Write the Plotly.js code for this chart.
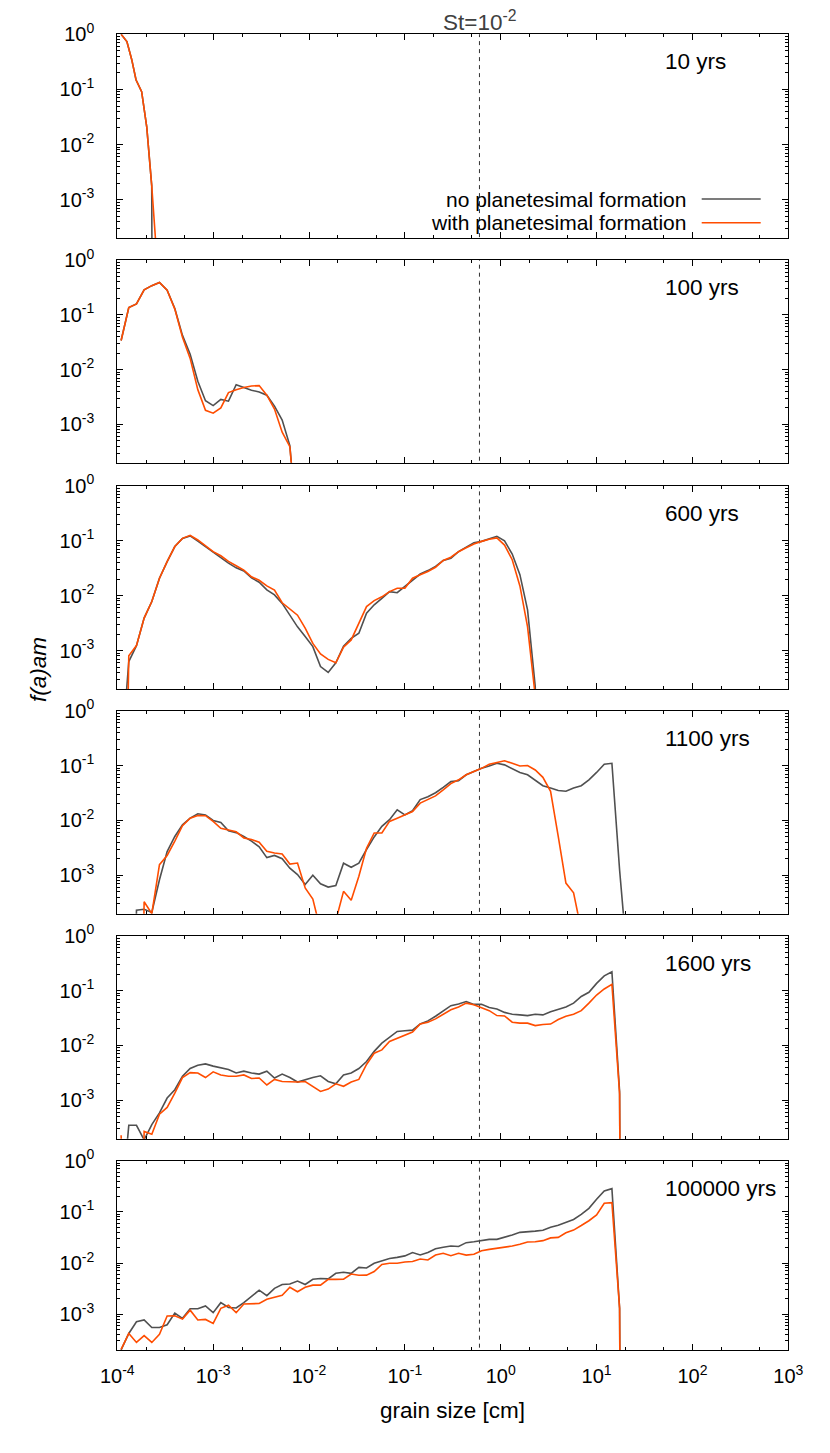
<!DOCTYPE html>
<html>
<head>
<meta charset="utf-8">
<script src="https://cdn.plot.ly/plotly-3.0.1.min.js"></script>
<style>html,body{margin:0;padding:0;background:#fff}#chart{width:830px;height:1453px}</style>
</head>
<body>
<div id="chart"></div>
<script>
// ---------------- DATA ----------------
const grainSize = [1.096e-4,1.318e-4,1.585e-4,1.905e-4,2.291e-4,2.754e-4,3.311e-4,3.981e-4,4.786e-4,5.754e-4,6.918e-4,8.318e-4,
  1.000e-3,1.202e-3,1.445e-3,1.738e-3,2.089e-3,2.512e-3,3.020e-3,3.631e-3,4.365e-3,5.248e-3,6.310e-3,7.586e-3,9.120e-3,
  1.096e-2,1.318e-2,1.585e-2,1.905e-2,2.291e-2,2.754e-2,3.311e-2,3.981e-2,4.786e-2,5.754e-2,6.918e-2,8.318e-2,
  0.1,0.1202,0.1445,0.1738,0.2089,0.2512,0.3020,0.3631,0.4365,0.5248,0.6310,0.7586,0.9120,
  1.096,1.318,1.585,1.905,2.291,2.754,3.311,3.981,4.786,5.754,6.918,8.318,
  10.0,12.02,14.45,17.38,20.89];

const grainSize10yr = [1.096e-4,1.259e-4,1.413e-4,1.567e-4,1.795e-4,2.028e-4,2.286e-4,2.570e-4];
const noPF_10 = [1.0,0.74,0.35,0.15,0.091,0.021,1.8e-3,1e-30];
const withPF_10 = [1.0,0.74,0.35,0.15,0.091,0.021,1.8e-3,1e-4];

const noPF_100 = [0.034,0.135,0.158,0.285,0.34,0.39,0.28,0.13,0.042,0.019,6.1e-3,2.7e-3,2.2e-3,2.85e-3,2.65e-3,5.3e-3,4.7e-3,4.2e-3,3.9e-3,3.4e-3,2.15e-3,1.2e-3,4.1e-4,1e-5];
const withPF_100 = [0.034,0.135,0.158,0.285,0.34,0.39,0.28,0.127,0.039,0.016,4.3e-3,1.8e-3,1.6e-3,2.0e-3,3.8e-3,4.3e-3,4.7e-3,5.0e-3,5.1e-3,3.4e-3,1.9e-3,7.2e-4,3.9e-4,1e-5];

const noPF_600 = [1e-5,6.3e-4,1.23e-3,3.9e-3,7.8e-3,0.0207,0.0415,0.078,0.11,0.122,0.098,0.078,0.06,0.049,0.039,0.032,0.028,0.021,0.0175,0.0127,0.0103,7.2e-3,4.5e-3,2.7e-3,1.8e-3,1.18e-3,5.1e-4,4.0e-4,6.0e-4,1.2e-3,1.67e-3,2.07e-3,4.8e-3,6.8e-3,8.9e-3,0.0118,0.0113,0.0145,0.019,0.0247,0.0285,0.034,0.0435,0.048,0.063,0.077,0.092,0.097,0.108,0.12,0.099,0.057,0.024,5.5e-3,2.2e-4,1e-12];
const withPF_600 = [1e-12,8e-4,1.23e-3,3.9e-3,7.8e-3,0.0207,0.0415,0.078,0.11,0.125,0.103,0.080,0.063,0.053,0.042,0.035,0.029,0.022,0.019,0.015,0.0126,7.4e-3,5.6e-3,4.4e-3,2.55e-3,1.35e-3,8.7e-4,6.9e-4,6.0e-4,1.15e-3,1.56e-3,3.2e-3,6.3e-3,8.1e-3,9.5e-3,0.0118,0.0136,0.0136,0.0207,0.024,0.0275,0.0327,0.0435,0.05,0.063,0.074,0.087,0.097,0.106,0.112,0.083,0.045,0.015,2.7e-3,1.5e-4];

const noPF_1100 = [1e-12,1e-12,2.3e-4,2.4e-4,2.1e-4,8.3e-4,2.7e-3,5.1e-3,8.3e-3,0.011,0.0132,0.0126,0.01,9.2e-3,6.5e-3,6e-3,5.1e-3,4.2e-3,3.3e-3,2.1e-3,2.3e-3,2.0e-3,1.35e-3,1.03e-3,6.8e-4,1e-3,7.0e-4,6.1e-4,6.5e-4,1.66e-3,1.4e-3,1.66e-3,2.95e-3,5e-3,7.8e-3,0.0103,0.0156,0.0126,0.015,0.024,0.027,0.032,0.040,0.051,0.053,0.068,0.078,0.089,0.098,0.11,0.103,0.089,0.075,0.068,0.055,0.043,0.039,0.035,0.034,0.039,0.043,0.055,0.075,0.106,0.11,1.25e-3,3e-5];
const withPF_1100 = [1e-12,1e-12,1e-12,3.3e-4,2.0e-4,1.56e-3,2.3e-3,4.2e-3,8e-3,0.011,0.0123,0.0122,9.6e-3,7.2e-3,6.6e-3,6.2e-3,4.8e-3,4.5e-3,4e-3,2.75e-3,2.55e-3,2.45e-3,1.6e-3,1.67e-3,5.9e-4,3.7e-4,1e-4,1e-12,1.5e-4,5.1e-4,3.5e-4,9.6e-4,3.1e-3,5.9e-3,5.9e-3,9.6e-3,0.011,0.0126,0.0145,0.0207,0.0245,0.028,0.036,0.047,0.055,0.068,0.078,0.089,0.106,0.115,0.122,0.11,0.098,0.1,0.083,0.061,0.034,5.1e-3,7.2e-4,4.8e-4,1e-4];

const noPF_1600 = [1e-5,3.5e-4,3.5e-4,1.9e-4,3.6e-4,5.9e-4,1.1e-3,1.56e-3,2.75e-3,3.8e-3,4.35e-3,4.6e-3,4.2e-3,3.9e-3,3.65e-3,3.15e-3,3.4e-3,3.15e-3,3.0e-3,3.4e-3,2.55e-3,3.0e-3,2.6e-3,2.15e-3,2.4e-3,2.6e-3,2.8e-3,2.2e-3,2.0e-3,2.9e-3,3.15e-3,3.8e-3,5.1e-3,7.8e-3,0.011,0.014,0.018,0.0185,0.019,0.0247,0.028,0.034,0.043,0.053,0.057,0.063,0.056,0.056,0.049,0.046,0.040,0.037,0.036,0.035,0.037,0.036,0.041,0.046,0.050,0.059,0.078,0.093,0.135,0.185,0.22,1.45e-3,1e-30];
const withPF_1600 = [2.3e-4,1e-12,1e-12,2.7e-4,2.4e-4,5.6e-4,7.4e-4,1.35e-3,2.6e-3,3.2e-3,3.15e-3,2.6e-3,3.3e-3,2.9e-3,2.75e-3,2.75e-3,2.9e-3,2.5e-3,2.55e-3,1.9e-3,2.4e-3,2.2e-3,2.15e-3,2.15e-3,2.2e-3,1.8e-3,1.45e-3,1.6e-3,2.0e-3,1.8e-3,2.15e-3,2.4e-3,4.5e-3,7.2e-3,8.3e-3,0.0118,0.0136,0.0156,0.0175,0.0247,0.0265,0.0305,0.037,0.0446,0.05,0.059,0.055,0.049,0.043,0.035,0.0345,0.0265,0.0255,0.0255,0.023,0.024,0.0245,0.0297,0.034,0.037,0.043,0.059,0.083,0.107,0.13,1.3e-3,1e-30];

const noPF_100000 = [2e-4,4.2e-4,7.1e-4,7.7e-4,5.5e-4,5.5e-4,6.2e-4,1.05e-3,8.3e-4,1.28e-3,1.28e-3,1.45e-3,1.07e-3,1.68e-3,1.35e-3,1.32e-3,1.68e-3,2.2e-3,2.95e-3,2.3e-3,3.2e-3,3.8e-3,3.9e-3,4.45e-3,3.8e-3,4.8e-3,5.0e-3,4.9e-3,6.3e-3,6.6e-3,6.3e-3,8.2e-3,8.0e-3,9.9e-3,0.011,0.0123,0.0129,0.0138,0.016,0.0144,0.016,0.019,0.0203,0.0215,0.021,0.025,0.026,0.0274,0.029,0.029,0.0317,0.0353,0.0398,0.0405,0.042,0.0436,0.05,0.055,0.063,0.071,0.089,0.117,0.176,0.256,0.284,1.3e-3,1e-30];
const withPF_100000 = [2.05e-4,4.2e-4,2.8e-4,3.8e-4,2.8e-4,4.05e-4,9.2e-4,9.3e-4,8.0e-4,1.2e-3,7.7e-4,7.9e-4,6.6e-4,1.3e-3,1.5e-3,1.07e-3,1.58e-3,1.58e-3,1.62e-3,1.95e-3,2.14e-3,2.34e-3,3.35e-3,2.75e-3,3.35e-3,3.7e-3,3.7e-3,4.8e-3,4.8e-3,4.85e-3,6.1e-3,5.75e-3,5.8e-3,6.8e-3,9.4e-3,9.9e-3,9.9e-3,0.0105,0.0107,0.012,0.0115,0.0143,0.0155,0.0139,0.0155,0.0143,0.0148,0.0174,0.0185,0.0194,0.02,0.0215,0.0232,0.0257,0.026,0.0274,0.031,0.0317,0.039,0.044,0.054,0.067,0.087,0.147,0.151,1.3e-3,1e-30];

const timeLabels = ['10 yrs','100 yrs','600 yrs','1100 yrs','1600 yrs','100000 yrs'];
const stokesGrainSize = 0.6;
const stokesLineSpan = [1e-6, 10];
const seriesNames = ['no planetesimal formation','with planetesimal formation'];
const xTickVals = [1e-4,1e-3,1e-2,1e-1,1,10,100,1000];
const xTickText = ['10<sup>-4</sup>','10<sup>-3</sup>','10<sup>-2</sup>','10<sup>-1</sup>','10<sup>0</sup>','10<sup>1</sup>','10<sup>2</sup>','10<sup>3</sup>'];
const yTickVals = [1,0.1,0.01,0.001];
const yTickText = ['10<sup>0</sup>','10<sup>-1</sup>','10<sup>-2</sup>','10<sup>-3</sup>'];

// ---------------- LAYOUT ----------------
const W = 830, H = 1453;
const plotLeft = 117.3, plotRight = 788.3;
const panelTops = [34.3,260,485.7,710.7,935.7,1160.7];
const panelBottoms = [238.3,462.7,689,913.7,1138.7,1350];
const GRAY = '#505050', ORANGE = '#ff4d00';
const FONT = 'Liberation Sans, Arial, Helvetica, sans-serif';
const TEXT_SIZE = 22.5;
const KEY_SIZE = 21;

const panels = [
  {x: grainSize10yr, g: noPF_10, o: withPF_10},
  {x: grainSize, g: noPF_100, o: withPF_100},
  {x: grainSize, g: noPF_600, o: withPF_600},
  {x: grainSize, g: noPF_1100, o: withPF_1100},
  {x: grainSize, g: noPF_1600, o: withPF_1600},
  {x: grainSize, g: noPF_100000, o: withPF_100000}
];

const traces = [];
const layout = {
  width: W, height: H,
  margin: {l:0, r:0, t:0, b:0},
  paper_bgcolor: '#fff', plot_bgcolor: '#fff',
  showlegend: false,
  font: {family: FONT, size: 20, color: '#000'},
  annotations: [], shapes: []
};

panels.forEach((p, i) => {
  const n = i === 0 ? '' : String(i + 1);
  const xa = 'x' + n, ya = 'y' + n;
  traces.push({x: [stokesGrainSize, stokesGrainSize], y: stokesLineSpan, type: 'scatter', mode: 'lines',
    xaxis: xa, yaxis: ya, hoverinfo: 'skip', line: {color: '#333', width: 1, dash: '4px,4px'}});
  traces.push({x: p.x, y: p.g, type: 'scatter', mode: 'lines', name: seriesNames[0],
    xaxis: xa, yaxis: ya, line: {color: GRAY, width: 1.6}});
  traces.push({x: p.x, y: p.o, type: 'scatter', mode: 'lines', name: seriesNames[1],
    xaxis: xa, yaxis: ya, line: {color: ORANGE, width: 1.6}});

  const last = i === panels.length - 1;
  layout['xaxis' + n] = {
    type: 'log', range: [-4, 3], domain: [plotLeft / W, plotRight / W], anchor: ya,
    showgrid: false, zeroline: false, showline: true, linecolor: '#000', linewidth: 1, mirror: 'allticks',
    ticks: 'inside', ticklen: 6, tickcolor: '#000', tickmode: 'array', tickvals: xTickVals, ticktext: xTickText,
    showticklabels: last, tickfont: {family: FONT, size: 20, color: '#000'}, ticklabelstandoff: 8,
    minor: {ticks: 'inside', ticklen: 3, tickcolor: '#000', dtick: 'D2', showgrid: false},
    fixedrange: true
  };
  layout['yaxis' + n] = {
    type: 'log', range: [-3.7, 0], domain: [1 - panelBottoms[i] / H, 1 - panelTops[i] / H], anchor: xa,
    showgrid: false, zeroline: false, showline: true, linecolor: '#000', linewidth: 1, mirror: 'allticks',
    ticks: 'inside', ticklen: 6, tickcolor: '#000', tickmode: 'array', tickvals: yTickVals, ticktext: yTickText,
    tickfont: {family: FONT, size: 20, color: '#000'}, ticklabelstandoff: 18,
    minor: {ticks: 'inside', ticklen: 3, tickcolor: '#000', dtick: 'D1', showgrid: false},
    fixedrange: true
  };

  layout.annotations.push({
    text: timeLabels[i], xref: 'paper', yref: 'paper', x: 663 / W, y: 1 - (panelTops[i] + 27.5) / H,
    xanchor: 'left', yanchor: 'middle', showarrow: false, font: {family: FONT, size: TEXT_SIZE, color: '#000'}
  });
});

// Stokes-number label
layout.annotations.push({
  text: 'St=10<sup>-2</sup>', xref: 'x', yref: 'paper', x: Math.log10(stokesGrainSize), y: 1 - 21 / H,
  xanchor: 'center', yanchor: 'middle', showarrow: false, font: {family: FONT, size: TEXT_SIZE, color: '#404040'}
});
// key (text left of sample line, gnuplot style)
const keyRows = [199, 222.7];
[GRAY, ORANGE].forEach((c, j) => {
  layout.annotations.push({
    text: seriesNames[j], xref: 'paper', yref: 'paper', x: 687 / W, y: 1 - keyRows[j] / H,
    xanchor: 'right', yanchor: 'middle', showarrow: false, borderpad: 0,
    font: {family: FONT, size: KEY_SIZE, color: '#000'}
  });
  layout.shapes.push({type: 'line', xref: 'paper', yref: 'paper', x0: 701.7 / W, x1: 760.7 / W,
    y0: 1 - keyRows[j] / H, y1: 1 - keyRows[j] / H, line: {color: c, width: 1.6}});
});
// axis titles
layout.annotations.push({
  text: 'grain size [cm]', xref: 'paper', yref: 'paper', x: (plotLeft + plotRight) / 2 / W, y: 1 - 1410 / H,
  xanchor: 'center', yanchor: 'middle', showarrow: false, font: {family: FONT, size: TEXT_SIZE, color: '#000'}
});
layout.annotations.push({
  text: '<i>f(a)am</i>', xref: 'paper', yref: 'paper', x: 38 / W, y: 1 - 670 / H, textangle: -90,
  xanchor: 'center', yanchor: 'middle', showarrow: false, font: {family: FONT, size: TEXT_SIZE, color: '#000'}
});

Plotly.newPlot('chart', traces, layout, {displayModeBar: false, staticPlot: true});
</script>
</body>
</html>
